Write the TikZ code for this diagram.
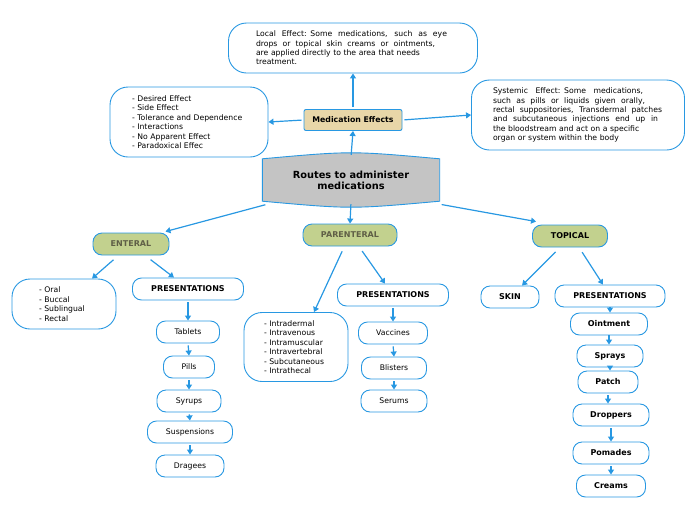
\documentclass[tikz,border=0pt]{standalone}
\usepackage{fontspec}
\setmainfont{DejaVu Sans}
\usetikzlibrary{arrows.meta,positioning}

\definecolor{linkblue}{RGB}{40,152,226}
\definecolor{effecttan}{RGB}{232,214,168}
\definecolor{routegreen}{RGB}{194,209,142}
\definecolor{routegray}{RGB}{196,196,196}
\definecolor{olivetext}{RGB}{95,95,70}

\newcommand{\plainfont}{\fontsize{7.7}{9.5}\selectfont}
\newcommand{\parafont}{\fontsize{7.7}{9.4}\selectfont}
\newcommand{\boldfont}{\fontsize{8}{9.5}\selectfont\bfseries}
% one justified line of a given width
\newcommand{\fullline}[2]{\makebox[#1][s]{\spaceskip=.3333em plus 2em minus .12em\relax #2}}

\tikzset{
  link/.style={draw=linkblue,line width=1.2pt,-{Triangle[length=5pt,width=6pt]},shorten <=2pt},
  bigbox/.style={draw=linkblue,line width=0.9pt,rounded corners=18pt,fill=white,
    font=\plainfont,inner sep=0pt,align=left},
  itembox/.style={draw=linkblue,line width=0.9pt,rounded corners=9pt,fill=white,
    font=\plainfont,inner sep=0pt,minimum height=22pt},
  boldbox/.style={itembox,font=\boldfont},
  routebox/.style={draw=linkblue,line width=0.9pt,rounded corners=9pt,fill=routegreen,
    font=\boldfont,inner sep=0pt,minimum height=22pt},
}

\begin{document}
\begin{tikzpicture}[x=1pt,y=-1pt]
  \useasboundingbox (0,0) rectangle (696,520);

  % top part: effects
  \node[bigbox,font=\parafont,minimum width=249pt,minimum height=50pt,text width=194pt] (local) at (353,48)
        {\fullline{191pt}{Local Effect: Some medications, such as eye}\\
         \fullline{179pt}{drops or topical skin creams or ointments,}\\
         are applied directly to the area that needs\\
         treatment.};
  \node[draw=linkblue,line width=0.9pt,rounded corners=2pt,fill=effecttan,
        font=\fontsize{7.8}{9.5}\selectfont\bfseries,minimum width=98pt,minimum height=21pt,
        inner sep=0pt] (meff) at (353,120) {Medication Effects};
  \node[bigbox,minimum width=158pt,minimum height=70pt,text width=114pt] (kinds) at (189,122)
        {- Desired Effect\\- Side Effect\\- Tolerance and Dependence\\- Interactions\\- No Apparent Effect\\- Paradoxical Effec};
  \node[bigbox,font=\parafont,minimum width=213pt,minimum height=70pt,text width=170pt] (systemic) at (578,115)
        {\fullline{150pt}{Systemic Effect: Some medications,}\\
         \fullline{152pt}{such as pills or liquids given orally,}\\
         \fullline{169pt}{rectal suppositories, Transdermal patches}\\
         \fullline{165pt}{and subcutaneous injections end up in}\\
         the bloodstream and act on a specific\\
         organ or system within the body};

  % central node
  \node[minimum width=177pt,minimum height=50pt,inner sep=0pt] (routes) at (351,180) {};
  \path[draw=linkblue,line width=0.9pt,fill=routegray]
    ([yshift=-4pt]routes.north west) .. controls ([yshift=4pt]routes.north) .. ([yshift=-4pt]routes.north east)
    -- ([yshift=4pt]routes.south east) .. controls ([yshift=-4pt]routes.south) .. ([yshift=4pt]routes.south west)
    -- cycle;
  \node[font=\fontsize{9.8}{11}\selectfont\bfseries,align=center] (routestext) at (routes) {Routes to administer\\medications};

  \draw[link] (meff.north) -- (local.south);
  \draw[link] (meff.west) -- (kinds.east);
  \draw[link] (meff.east) -- (systemic.west);
  \draw[link] ([yshift=-2pt]routes.north) -- (meff.south);

  % the three routes
  \node[routebox,minimum width=76pt,text=olivetext] (enteral) at (131,244) {ENTERAL};
  \node[routebox,minimum width=94pt,text=olivetext] (parenteral) at (350,235) {PARENTERAL};
  \node[routebox,minimum width=75pt] (topical) at (570,236) {TOPICAL};

  \draw[link] ([xshift=5pt,yshift=1pt]routes.south west) -- ([xshift=-4pt,yshift=1pt]enteral.north east);
  \draw[link] ([yshift=3pt]routes.south) -- (parenteral.north);
  \draw[link] ([yshift=1pt]routes.south east) -- ([xshift=4pt,yshift=3pt]topical.north west);

  % enteral
  \node[bigbox,minimum width=104pt,minimum height=50pt,text width=50pt] (elist) at (64,304)
        {- Oral\\- Buccal\\- Sublingual\\- Rectal};
  \node[boldbox,minimum width=111pt] (epres) at (188,289) {PRESENTATIONS};
  \node[itembox,minimum width=63pt] (tablets) at (188,332) {Tablets};
  \node[itembox,minimum width=51pt] (pills) at (189,367) {Pills};
  \node[itembox,minimum width=64pt] (syrups) at (189,401) {Syrups};
  \node[itembox,minimum width=85pt] (susp) at (190,432) {Suspensions};
  \node[itembox,minimum width=68pt] (dragees) at (190,466) {Dragees};

  \draw[link] ([xshift=-16pt,yshift=-3pt]enteral.south) -- ([xshift=28pt]elist.north);
  \draw[link] ([xshift=18pt,yshift=-3pt]enteral.south) -- ([xshift=-14pt]epres.north);
  \draw[link] (epres.south) -- (tablets.north);
  \draw[link] (tablets.south) -- (pills.north);
  \draw[link] (pills.south) -- (syrups.north);
  \draw[link] (syrups.south) -- (susp.north);
  \draw[link] (susp.south) -- (dragees.north);

  % parenteral
  \node[bigbox,minimum width=104pt,minimum height=69pt,text width=64pt] (plist) at (296,347)
        {- Intradermal\\- Intravenous\\- Intramuscular\\- Intravertebral\\- Subcutaneous\\- Intrathecal};
  \node[boldbox,minimum width=111pt] (ppres) at (393,295) {PRESENTATIONS};
  \node[itembox,minimum width=69pt] (vaccines) at (393,333) {Vaccines};
  \node[itembox,minimum width=65pt] (blisters) at (394,368) {Blisters};
  \node[itembox,minimum width=66pt] (serums) at (394,401) {Serums};

  \draw[link] ([xshift=-7pt,yshift=-3pt]parenteral.south) -- ([xshift=18pt]plist.north);
  \draw[link] ([xshift=11pt,yshift=-3pt]parenteral.south) -- ([xshift=-8pt]ppres.north);
  \draw[link] (ppres.south) -- (vaccines.north);
  \draw[link] (vaccines.south) -- (blisters.north);
  \draw[link] (blisters.south) -- (serums.north);

  % topical
  \node[boldbox,minimum width=58pt] (skin) at (510,297) {SKIN};
  \node[boldbox,minimum width=110pt] (tpres) at (610,296) {PRESENTATIONS};
  \node[boldbox,minimum width=77pt] (ointment) at (609,324) {Ointment};
  \node[boldbox,minimum width=66pt] (sprays) at (610,356) {Sprays};
  \node[boldbox,minimum width=60pt] (patch) at (608,382) {Patch};
  \node[boldbox,minimum width=76pt] (droppers) at (611,415) {Droppers};
  \node[boldbox,minimum width=76pt] (pomades) at (611,453) {Pomades};
  \node[boldbox,minimum width=69pt] (creams) at (611,486) {Creams};

  \draw[link] ([xshift=-13pt,yshift=-3pt]topical.south) -- ([xshift=12pt]skin.north);
  \draw[link] ([xshift=11pt,yshift=-3pt]topical.south) -- ([xshift=-7pt]tpres.north);
  \draw[link,shorten <=0pt] (tpres.south) -- (tpres.south |- ointment.north);
  \draw[link,shorten <=0pt] (ointment.south) -- (ointment.south |- sprays.north);
  \draw[link,shorten <=0pt] (sprays.south) -- (sprays.south |- patch.north);
  \draw[link] (patch.south) -- (patch.south |- droppers.north);
  \draw[link] (droppers.south) -- (droppers.south |- pomades.north);
  \draw[link] (pomades.south) -- (pomades.south |- creams.north);
\end{tikzpicture}
\end{document}
